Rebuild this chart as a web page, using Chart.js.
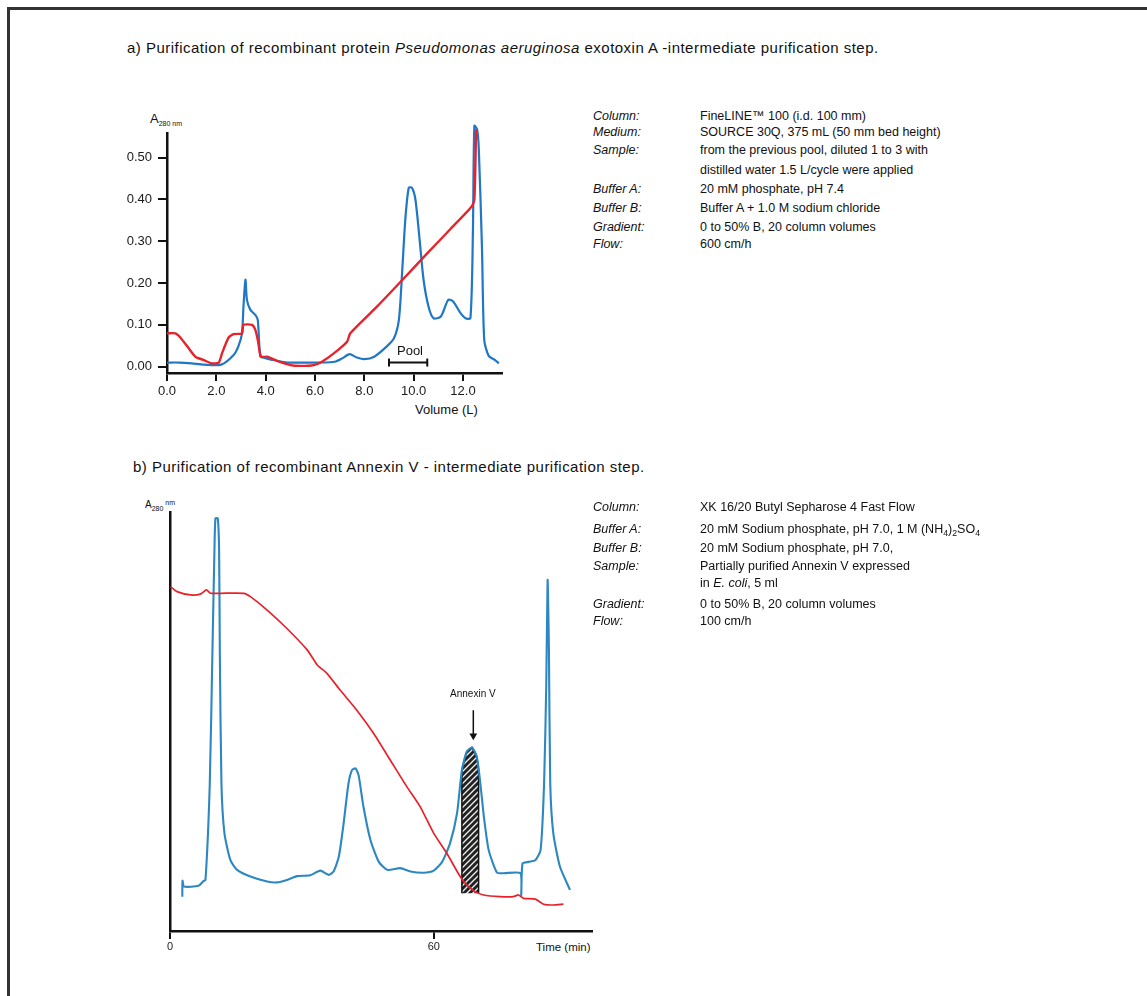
<!DOCTYPE html>
<html>
<head>
<meta charset="utf-8">
<script src="https://cdn.jsdelivr.net/npm/chart.js@4.4.0/dist/chart.umd.min.js"></script>
<style>
  body { margin: 0; background: #fff; font-family: "Liberation Sans", Arial, Helvetica, sans-serif; color: #111; }
  #page { position: relative; width: 1147px; height: 996px; overflow: hidden; }
  #frame { position: absolute; left: 7px; top: 7px; width: 1200px; height: 1100px; border-left: 3px solid #333; border-top: 3px solid #333; }
  .title { position: absolute; font-size: 15px; letter-spacing: 0.48px; white-space: nowrap; line-height: 15px; }
  .row { position: absolute; font-size: 12.5px; line-height: 14px; white-space: nowrap; }
  .row .lab { position: absolute; left: 0; font-style: italic; }
  .row .val { position: absolute; left: 107px; }
  .axt { position: absolute; white-space: nowrap; line-height: 12px; }
  canvas { position: absolute; }
  sub { font-size: 70%; vertical-align: -3px; line-height: 0; }
</style>
</head>
<body>
<div id="page">
  <div id="frame"></div>

  <div class="title" style="left:127px; top:40px;">a) Purification of recombinant protein <i>Pseudomonas aeruginosa</i> exotoxin A -intermediate purification step.</div>
  <div class="title" style="left:133px; top:459px;">b) Purification of recombinant Annexin V - intermediate purification step.</div>

  <div class="axt" style="left:150px; top:113px; font-size:13px;">A<sub style="font-size:7px;">280 nm</sub></div>
  <div class="axt" style="left:415px; top:404px; font-size:13px;">Volume (L)</div>
  <div class="axt" style="left:145px; top:497px; font-size:10px;">A<sub style="font-size:7px;">280</sub><span style="font-size:7px; vertical-align:3px;"> nm</span></div>
  <div class="axt" style="left:536px; top:941px; font-size:11.5px;">Time (min)</div>

  <canvas id="chartA" width="420" height="330" style="left:100px; top:100px;"></canvas>
  <canvas id="chartB" width="520" height="480" style="left:100px; top:480px;"></canvas>

  <div id="infoA"></div>
  <div id="infoB"></div>
</div>

<script>
// ---- a) SOURCE 30Q run ----
const volumeA = [0, 0.5, 1.0, 1.5, 2.2, 2.7, 2.9, 3.04, 3.1, 3.18, 3.24, 3.38, 3.58, 3.68, 3.78, 3.9, 4.3, 4.9, 5.5, 6.2, 6.8, 7.1, 7.4, 7.7, 8.0, 8.4, 8.9, 9.2, 9.4, 9.53, 9.66, 9.8, 9.93, 10.07, 10.24, 10.4, 10.6, 10.8, 11.1, 11.4, 11.6, 11.9, 12.1, 12.3, 12.4, 12.46, 12.57, 12.64, 12.77, 12.86, 13.04, 13.3, 13.45];
const absA = [0.010, 0.010, 0.008, 0.005, 0.005, 0.028, 0.050, 0.080, 0.144, 0.208, 0.160, 0.136, 0.124, 0.112, 0.024, 0.022, 0.016, 0.010, 0.010, 0.010, 0.012, 0.020, 0.030, 0.022, 0.018, 0.024, 0.048, 0.068, 0.112, 0.224, 0.352, 0.428, 0.428, 0.400, 0.304, 0.208, 0.144, 0.116, 0.120, 0.160, 0.156, 0.128, 0.116, 0.116, 0.320, 0.576, 0.568, 0.520, 0.280, 0.064, 0.026, 0.016, 0.008];

const condVolumeA = [0, 0.34, 0.54, 0.88, 1.15, 1.49, 1.82, 2.1, 2.23, 2.5, 2.7, 3.04, 3.1, 3.45, 3.58, 3.68, 3.81, 4.05, 4.46, 5.0, 5.4, 5.95, 6.28, 6.76, 7.3, 7.43, 8.5, 9.5, 10.5, 11.5, 12.36, 12.46, 12.53];
const condA = [0.080, 0.080, 0.070, 0.044, 0.024, 0.016, 0.008, 0.010, 0.032, 0.070, 0.078, 0.080, 0.100, 0.100, 0.088, 0.064, 0.024, 0.024, 0.014, 0.004, 0.002, 0.004, 0.012, 0.032, 0.060, 0.080, 0.143, 0.205, 0.268, 0.330, 0.384, 0.400, 0.568];

const poolVolumes = [9.0, 10.55];
const poolLevel = 0.01;

const xTicksA = [0, 2, 4, 6, 8, 10, 12];
const xTickLabelsA = ['0.0', '2.0', '4.0', '6.0', '8.0', '10.0', '12.0'];
const yTicksA = [0, 0.1, 0.2, 0.3, 0.4, 0.5];
const yTickLabelsA = ['0.00', '0.10', '0.20', '0.30', '0.40', '0.50'];

// ---- b) Butyl Sepharose run ----
const timeB = [2.8, 2.85, 3.2, 6.5, 7.5, 8.07, 9.05, 9.66, 10.11, 10.34, 10.87, 11.17, 11.33, 11.7, 12.39, 13.75, 15.27, 18.3, 22.1, 24.4, 26.6, 28.9, 31.9, 34.2, 36.1, 37.2, 38.4, 39.5, 40.6, 41.4, 42.2, 42.9, 44.0, 45.6, 47.5, 49.4, 52.4, 54.7, 57.7, 60, 61.9, 63.7, 65.3, 66.4, 67.5, 68.7, 69.8, 70.6, 71.4, 72.5, 74.4, 75.9, 79.7, 79.9, 80.2, 81.6, 83.1, 84.3, 85.1, 85.6, 85.9, 86.2, 86.5, 87.2, 88.7, 91];
const absB = [8.2, 12.0, 10.6, 10.8, 11.8, 12.2, 35.2, 67.1, 90.9, 98.5, 98.5, 90.9, 67.1, 35.2, 23.3, 16.9, 14.6, 13.0, 11.8, 11.6, 12.2, 13.1, 13.3, 14.4, 13.4, 14.2, 17.7, 25.7, 35.2, 38.4, 38.8, 37.2, 29.7, 21.7, 16.5, 14.6, 15.0, 14.2, 13.9, 14.4, 16.5, 20.9, 28.1, 38.4, 42.8, 43.8, 41.6, 35.2, 27.3, 19.3, 13.9, 13.8, 13.8, 8.6, 16.1, 16.5, 16.9, 19.3, 35.2, 59.0, 83.8, 67.0, 35.2, 23.3, 15.4, 9.8];

const gradTimeB = [0.1, 1.6, 4.7, 6.9, 8.3, 9.2, 11.5, 16.8, 18.3, 22.1, 26.6, 31.2, 33.5, 35.7, 38.7, 42.5, 46.3, 50.1, 53.9, 56.9, 60, 63, 66.0, 67.5, 69.4, 71.3, 75.1, 78.1, 79.3, 80.4, 83.1, 85, 87.2, 89.5];
const gradB = [82.2, 81.0, 80.2, 80.4, 81.4, 80.6, 80.6, 80.6, 79.8, 76.6, 72.2, 67.1, 63.5, 61.5, 57.5, 52.7, 47.2, 40.8, 34.4, 29.7, 23.3, 18.5, 13.0, 11.0, 9.4, 8.6, 8.2, 8.2, 8.6, 7.8, 7.6, 6.4, 6.2, 6.4];

// shaded Annexin V fraction (outline of the cut under the peak)
const fractionTimes = [66.4, 66.4, 67.5, 68.7, 69.8, 70.2, 70.2];
const fractionValues = [9.0, 38.4, 42.8, 43.8, 41.6, 38.6, 9.0];
const fractionBase = 9.0;

const arrowTime = 69.0;
const arrowFrom = 52.7;
const arrowTo = 46.6;

const xTicksB = [0, 60];
const xTickLabelsB = ['0', '60'];

const blueA = '#1f77c6';
const blueB = '#2c87c2';
const red = '#e8222a';
const axisColor = '#111';

function pts(xs, ys) {
    return xs.map((x, i) => ({ x: x, y: ys[i] }));
}

function fixedTicks(values) {
    return function (scale) {
        scale.ticks = values.map(v => ({ value: v }));
    };
}

// text labels placed at data positions
const labelPlugin = {
    id: 'labels',
    afterDatasetsDraw(chart, args, opts) {
        const ctx = chart.ctx;
        ctx.save();
        ctx.fillStyle = '#111';
        ctx.textAlign = 'center';
        ctx.textBaseline = 'middle';
        opts.items.forEach(item => {
            ctx.font = item.font;
            ctx.fillText(item.text, chart.scales.x.getPixelForValue(item.x), chart.scales.y.getPixelForValue(item.y));
        });
        ctx.restore();
    }
};

function makeHatch() {
    const c = document.createElement('canvas');
    c.width = 6;
    c.height = 6;
    const g = c.getContext('2d');
    g.fillStyle = '#222';
    g.fillRect(0, 0, 6, 6);
    g.strokeStyle = '#f2f2f2';
    g.lineWidth = 1.3;
    g.beginPath();
    g.moveTo(-1, 7); g.lineTo(7, -1);
    g.moveTo(-4, 4); g.lineTo(4, -4);
    g.moveTo(2, 10); g.lineTo(10, 2);
    g.stroke();
    return g.createPattern(c, 'repeat');
}

function initChartA() {
    const ctx = document.getElementById('chartA').getContext('2d');
    new Chart(ctx, {
        type: 'line',
        data: {
            datasets: [
                { data: pts(condVolumeA, condA), borderColor: red, borderWidth: 2.4, pointRadius: 0, tension: 0.2, clip: false, order: 0 },
                { data: pts(volumeA, absA), borderColor: blueA, borderWidth: 2.2, pointRadius: 0, tension: 0.25, clip: false, order: 1 },
                {
                    data: poolVolumes.map(v => ({ x: v, y: poolLevel })),
                    borderColor: '#111', borderWidth: 2, pointStyle: 'line', rotation: 90,
                    pointRadius: 4, pointBorderWidth: 2, pointBorderColor: '#111', order: 2
                }
            ]
        },
        options: {
            responsive: false,
            animation: false,
            layout: { padding: { left: 0, top: 33, right: 18, bottom: 0 } },
            plugins: {
                legend: { display: false },
                tooltip: { enabled: false },
                labels: { items: [{ text: 'Pool', x: 9.85, y: 0.036, font: '13px "Liberation Sans", Arial, sans-serif' }] }
            },
            scales: {
                x: {
                    type: 'linear', min: 0, max: 13.58,
                    afterBuildTicks: fixedTicks(xTicksA),
                    afterFit: s => { s.height = 57; },
                    ticks: {
                        autoSkip: false, maxRotation: 0, padding: 3, color: '#1a1a1a',
                        font: { family: '"Liberation Sans", Arial, sans-serif', size: 13 },
                        callback: (v, i) => xTickLabelsA[i]
                    },
                    grid: { drawOnChartArea: false, drawTicks: true, tickLength: 8, color: axisColor, lineWidth: 2 },
                    border: { display: true, color: axisColor, width: 2.5 }
                },
                y: {
                    type: 'linear', min: -0.015, max: 0.559,
                    afterBuildTicks: fixedTicks(yTicksA),
                    afterFit: s => { s.width = 67; },
                    ticks: {
                        autoSkip: false, padding: 6, color: '#1a1a1a',
                        font: { family: '"Liberation Sans", Arial, sans-serif', size: 13 },
                        callback: (v, i) => yTickLabelsA[i]
                    },
                    grid: { drawOnChartArea: false, drawTicks: true, tickLength: 9, color: axisColor, lineWidth: 2 },
                    border: { display: true, color: axisColor, width: 2.5 }
                }
            }
        },
        plugins: [labelPlugin]
    });
}

function initChartB() {
    const ctx = document.getElementById('chartB').getContext('2d');
    new Chart(ctx, {
        type: 'line',
        data: {
            datasets: [
                { data: pts(gradTimeB, gradB), borderColor: red, borderWidth: 1.7, pointRadius: 0, tension: 0.2, order: 0 },
                { data: pts(timeB, absB), borderColor: blueB, borderWidth: 2.1, pointRadius: 0, tension: 0.2, order: 1 },
                {
                    data: pts(fractionTimes, fractionValues), borderColor: '#111', borderWidth: 1.5,
                    backgroundColor: makeHatch(), fill: { value: fractionBase }, pointRadius: 0, tension: 0, order: 2
                },
                {
                    data: [{ x: arrowTime, y: arrowFrom }, { x: arrowTime, y: arrowTo }],
                    borderColor: '#111', borderWidth: 1.5, backgroundColor: '#111',
                    pointStyle: 'triangle', rotation: 180, pointRadius: [0, 4.5], pointBorderWidth: 0, order: 0
                }
            ]
        },
        options: {
            responsive: false,
            animation: false,
            layout: { padding: { left: 0, top: 32, right: 28, bottom: 0 } },
            plugins: {
                legend: { display: false },
                tooltip: { enabled: false },
                labels: { items: [{ text: 'Annexin V', x: 68.9, y: 56.5, font: '10px "Liberation Sans", Arial, sans-serif' }] }
            },
            scales: {
                x: {
                    type: 'linear', min: 0, max: 96,
                    afterBuildTicks: fixedTicks(xTicksB),
                    afterFit: s => { s.height = 29; },
                    ticks: {
                        autoSkip: false, maxRotation: 0, padding: 1, color: '#1a1a1a',
                        font: { family: '"Liberation Sans", Arial, sans-serif', size: 11 },
                        callback: (v, i) => xTickLabelsB[i]
                    },
                    grid: { drawOnChartArea: false, drawTicks: true, tickLength: 8, color: axisColor, lineWidth: 2 },
                    border: { display: true, color: axisColor, width: 2.5 }
                },
                y: {
                    type: 'linear', min: 0, max: 100,
                    afterFit: s => { s.width = 70; },
                    ticks: { display: false },
                    grid: { display: false },
                    border: { display: true, color: axisColor, width: 2.5 }
                }
            }
        },
        plugins: [labelPlugin]
    });
}

// ---- method text beside the charts ----
const methodRowsA = [
    ['Column:', 'FineLINE™ 100 (i.d. 100 mm)', 116],
    ['Medium:', 'SOURCE 30Q, 375 mL (50 mm bed height)', 132],
    ['Sample:', 'from the previous pool, diluted 1 to 3 with', 150],
    ['', 'distilled water 1.5 L/cycle were applied', 170],
    ['Buffer A:', '20 mM phosphate, pH 7.4', 189],
    ['Buffer B:', 'Buffer A + 1.0 M sodium chloride', 208],
    ['Gradient:', '0 to 50% B, 20 column volumes', 227],
    ['Flow:', '600 cm/h', 244]
];
const methodRowsB = [
    ['Column:', 'XK 16/20 Butyl Sepharose 4 Fast Flow', 507],
    ['Buffer A:', '20 mM Sodium phosphate, pH 7.0, 1 M (NH<sub>4</sub>)<sub>2</sub>SO<sub>4</sub>', 529],
    ['Buffer B:', '20 mM Sodium phosphate, pH 7.0,', 548],
    ['Sample:', 'Partially purified Annexin V expressed', 566],
    ['', 'in <i>E. coli</i>, 5 ml', 583],
    ['Gradient:', '0 to 50% B, 20 column volumes', 604],
    ['Flow:', '100 cm/h', 621]
];

function writeRows(id, rows) {
    const box = document.getElementById(id);
    rows.forEach(r => {
        const d = document.createElement('div');
        d.className = 'row';
        d.style.left = '593px';
        d.style.top = (r[2] - 7) + 'px';
        d.innerHTML = '<span class="lab">' + r[0] + '</span><span class="val">' + r[1] + '</span>';
        box.appendChild(d);
    });
}

window.onload = function () {
    writeRows('infoA', methodRowsA);
    writeRows('infoB', methodRowsB);
    initChartA();
    initChartB();
};
</script>
</body>
</html>
